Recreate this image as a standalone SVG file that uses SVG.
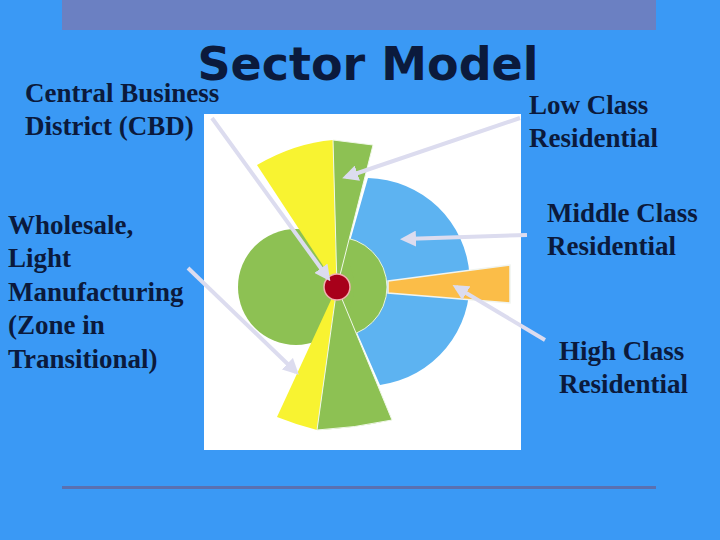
<svg xmlns="http://www.w3.org/2000/svg" width="720" height="540" viewBox="0 0 720 540">
<defs>
<marker id="ah" markerWidth="4" markerHeight="4" refX="3" refY="2" orient="auto" markerUnits="strokeWidth"><path d="M0,0 L4,2 L0,4 z" fill="#dcdcef"/></marker>
<style>
.lbl{font-family:"Liberation Serif",serif;font-weight:bold;font-size:27px;fill:#0b1a3c}
.ar{stroke:#dcdcef;stroke-width:4;fill:none;marker-end:url(#ah)}
</style>
</defs>
<rect width="720" height="540" fill="#3a99f5"/>
<rect x="62" y="0" width="594" height="30" fill="#6b80c2"/>
<rect x="62" y="486" width="594" height="3" fill="#5a70b0"/>
<g id="model">
<rect x="204" y="114" width="317" height="336" fill="#ffffff"/>
<path d="M337,287 L368,178 A104,104 0 0,1 380,385 z" fill="#5db3f1"/>
<circle cx="337" cy="287" r="50" fill="#8dc153" stroke="#e8f4e0" stroke-width="1"/>
<circle cx="296" cy="287" r="58" fill="#8dc153"/>
<path d="M388,281 L510,265 L510,303 L388,293 z" fill="#fbbd48" stroke="#f0f4f0" stroke-width="1.5"/>
<path d="M337,287 L257,165 Q295,143 333,140 z" fill="#f8f331"/>
<path d="M337,287 L333,140 L373,145 z" fill="#8dc153" stroke="#f0f8e8" stroke-width="1"/>
<path d="M337,287 L277,417 Q297,425 317,430 z" fill="#f8f331"/>
<path d="M337,287 L317,430 Q355,428 392,420 z" fill="#8dc153" stroke="#f0f8e8" stroke-width="1"/>
<circle cx="337" cy="287" r="13" fill="#a8001a" stroke="#f0b0b0" stroke-width="1.5"/>
</g>
<g id="connectors">
<line class="ar" x1="212" y1="118" x2="328" y2="278"/>
<line class="ar" x1="188" y1="268" x2="296" y2="372"/>
<line class="ar" x1="520" y1="118" x2="346" y2="177"/>
<line class="ar" x1="527" y1="235" x2="404" y2="239"/>
<line class="ar" x1="545" y1="340" x2="456" y2="287"/>
</g>
<g id="title"><text x="368" y="80" text-anchor="middle" font-family="'DejaVu Sans',sans-serif" font-weight="bold" font-size="46" fill="#0b1a3c">Sector Model</text></g>
<g id="cbd"><text class="lbl" x="25" y="102">Central Business</text><text class="lbl" x="25" y="135">District (CBD)</text></g>
<g id="wholesale"><text class="lbl" x="8" y="234">Wholesale,</text><text class="lbl" x="8" y="267">Light</text><text class="lbl" x="8" y="301">Manufacturing</text><text class="lbl" x="8" y="334">(Zone in</text><text class="lbl" x="8" y="368">Transitional)</text></g>
<g id="low"><text class="lbl" x="529" y="114">Low Class</text><text class="lbl" x="529" y="147">Residential</text></g>
<g id="middle"><text class="lbl" x="547" y="222">Middle Class</text><text class="lbl" x="547" y="255">Residential</text></g>
<g id="high"><text class="lbl" x="559" y="360">High Class</text><text class="lbl" x="559" y="393">Residential</text></g>
</svg>
